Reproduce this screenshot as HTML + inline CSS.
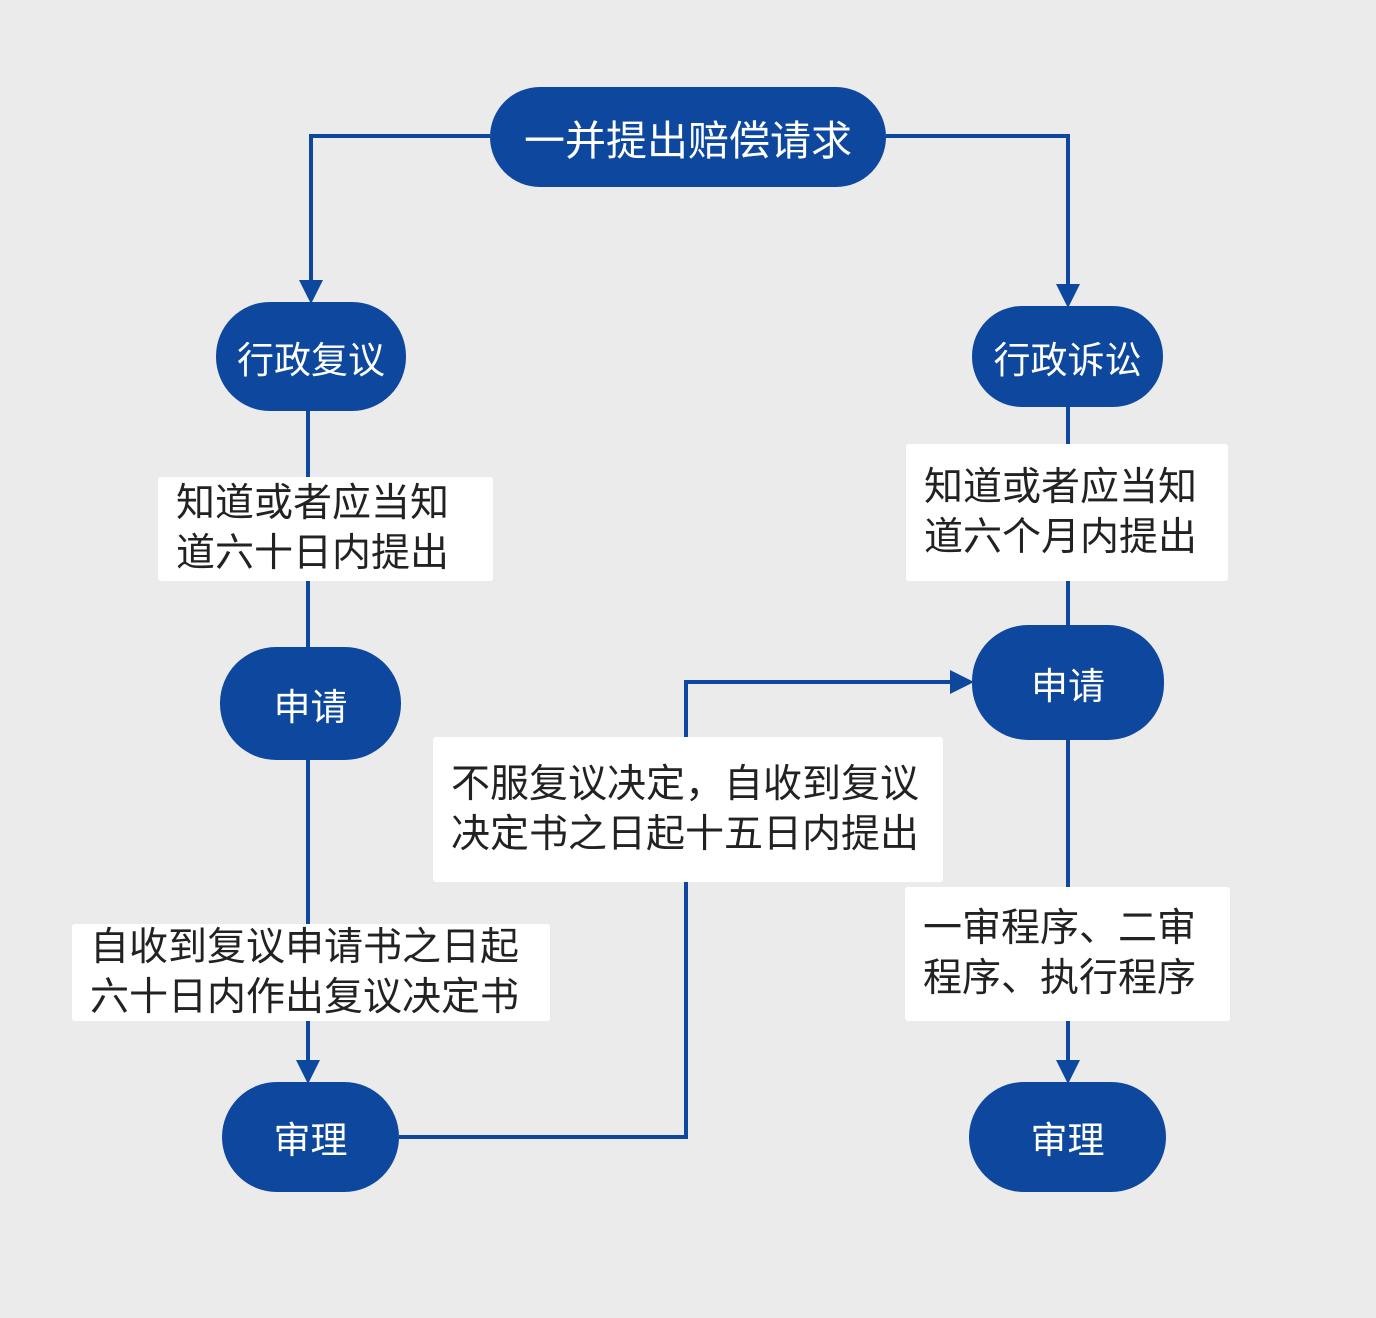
<!DOCTYPE html>
<html><head><meta charset="utf-8"><style>
html,body{margin:0;padding:0}
body{width:1376px;height:1318px;background:#ebebeb;position:relative;overflow:hidden;font-family:"Liberation Sans","Noto Sans CJK SC",sans-serif}
.n{position:absolute;background:#0e489e;color:#fff;display:flex;align-items:center;justify-content:center;font-size:37px}
.l{position:absolute;background:#fff;color:#222;font-size:39px;line-height:50px;box-sizing:border-box;border-radius:3px;display:flex;flex-direction:column;justify-content:center;white-space:nowrap}
svg{position:absolute;left:0;top:0}
</style></head><body>
<svg width="1376" height="1318">
<defs><marker id="a" markerWidth="6" markerHeight="6" refX="5" refY="3" orient="auto" markerUnits="strokeWidth"><path d="M0,0 L6,3 L0,6 z" fill="#0e489e"/></marker></defs>
<g stroke="#0e489e" stroke-width="4" fill="none">
<polyline points="490,136 311,136 311,300" marker-end="url(#a)"/>
<polyline points="886,136 1068,136 1068,304" marker-end="url(#a)"/>
<polyline points="308,411 308,1080" marker-end="url(#a)"/>
<polyline points="1068,407 1068,1080" marker-end="url(#a)"/>
<polyline points="399,1137 686,1137 686,682 970,682" marker-end="url(#a)"/>
</g></svg>
<div class="n" style="left:490px;top:87px;width:396px;height:100px;border-radius:50px;font-size:41px">一并提出赔偿请求</div>
<div class="n" style="left:216px;top:302px;width:190px;height:109px;border-radius:54px">行政复议</div>
<div class="n" style="left:972px;top:306px;width:191px;height:101px;border-radius:50px">行政诉讼</div>
<div class="n" style="left:220px;top:647px;width:181px;height:113px;border-radius:56px">申请</div>
<div class="n" style="left:972px;top:625px;width:192px;height:115px;border-radius:56px">申请</div>
<div class="n" style="left:222px;top:1082px;width:177px;height:110px;border-radius:55px">审理</div>
<div class="n" style="left:969px;top:1082px;width:197px;height:110px;border-radius:55px">审理</div>
<div class="l" style="left:158px;top:477px;width:335px;height:104px;padding-left:18px"><div>知道或者应当知</div><div>道六十日内提出</div></div>
<div class="l" style="left:906px;top:444px;width:322px;height:137px;padding-left:18px"><div>知道或者应当知</div><div>道六个月内提出</div></div>
<div class="l" style="left:433px;top:737px;width:510px;height:145px;padding-left:18px"><div>不服复议决定，自收到复议</div><div>决定书之日起十五日内提出</div></div>
<div class="l" style="left:72px;top:924px;width:478px;height:97px;padding-left:18px"><div>自收到复议申请书之日起</div><div>六十日内作出复议决定书</div></div>
<div class="l" style="left:905px;top:887px;width:325px;height:134px;padding-left:18px"><div>一审程序、二审</div><div>程序、执行程序</div></div>
</body></html>
